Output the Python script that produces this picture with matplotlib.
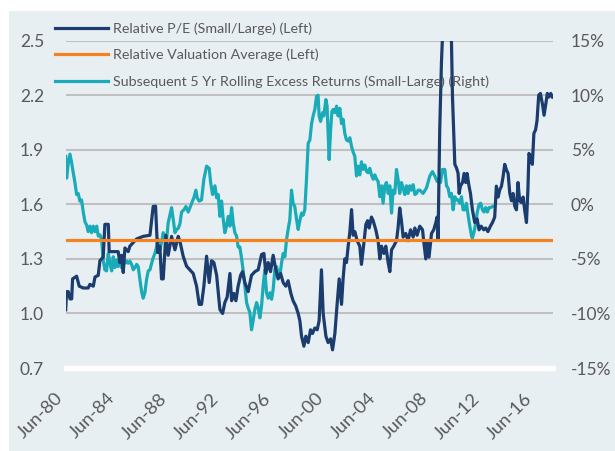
import matplotlib.pyplot as plt
import matplotlib.ticker as mticker
import matplotlib.transforms as mtransforms
from matplotlib.patches import Rectangle

# Relative P/E of small vs large caps (left axis)
pe_years = [1980.48, 1980.55, 1980.68, 1980.81, 1980.94, 1981.01, 1981.32, 1981.52, 1981.83, 1982.21,
            1982.34, 1982.60, 1982.73, 1982.98, 1983.11, 1983.36, 1983.49, 1983.75, 1983.82, 1984.26,
            1984.51, 1984.64, 1984.77, 1984.90, 1985.03, 1985.28, 1985.41, 1985.67, 1985.93, 1986.43,
            1986.95, 1987.20, 1987.38, 1987.54, 1987.71, 1987.84, 1987.97, 1988.17, 1988.35, 1988.61,
            1988.87, 1989.12, 1989.25, 1989.50, 1989.76, 1990.02, 1990.27, 1990.53, 1990.73, 1990.91,
            1991.09, 1991.30, 1991.50, 1991.68, 1991.86, 1992.07, 1992.32, 1992.53, 1992.70, 1992.88,
            1993.09, 1993.22, 1993.39, 1993.55, 1993.72, 1993.91, 1994.06, 1994.24, 1994.49, 1994.75,
            1995.01, 1995.26, 1995.52, 1995.70, 1995.85, 1996.03, 1996.21, 1996.41, 1996.59, 1996.79,
            1996.98, 1997.18, 1997.38, 1997.56, 1997.77, 1997.94, 1998.15, 1998.33, 1998.46, 1998.59,
            1998.77, 1998.92, 1999.10, 1999.28, 1999.43, 1999.61, 1999.79, 1999.94, 2000.12, 2000.25,
            2000.46, 2000.63, 2000.82, 2000.97, 2001.15, 2001.32, 2001.48, 2001.66, 2001.78, 2001.91,
            2002.04, 2002.17, 2002.30, 2002.43, 2002.55, 2002.68, 2002.86, 2003.06, 2003.19, 2003.32,
            2003.53, 2003.66, 2003.78, 2003.96, 2004.09, 2004.29, 2004.47, 2004.60, 2004.73, 2004.91,
            2005.06, 2005.24, 2005.37, 2005.50, 2005.67, 2005.88, 2006.00, 2006.13, 2006.26, 2006.39,
            2006.59, 2006.77, 2006.96, 2007.16, 2007.29, 2007.46, 2007.67, 2007.88, 2007.98, 2008.13,
            2008.23, 2008.38, 2008.57, 2008.74, 2008.90, 2009.00, 2009.07, 2009.20, 2009.33, 2009.51,
            2009.66, 2009.90, 2010.05, 2010.10, 2010.18, 2010.36, 2010.49, 2010.61, 2010.69, 2010.79,
            2010.95, 2011.07, 2011.20, 2011.30, 2011.45, 2011.56, 2011.71, 2011.89, 2012.07, 2012.22,
            2012.38, 2012.58, 2012.73, 2012.90, 2013.09, 2013.25, 2013.42, 2013.55, 2013.68, 2013.81,
            2013.94, 2014.06, 2014.19, 2014.32, 2014.45, 2014.58, 2014.71, 2014.83, 2014.96, 2015.09,
            2015.21, 2015.34, 2015.47, 2015.60, 2015.72, 2015.86, 2015.97, 2016.05, 2016.18, 2016.31,
            2016.43, 2016.56, 2016.67, 2016.80, 2016.93, 2017.09, 2017.21, 2017.34, 2017.46, 2017.59,
            2017.72, 2017.86]
pe_values = [1.02, 1.12, 1.12, 1.08, 1.08, 1.19, 1.205, 1.15, 1.14, 1.14,
             1.16, 1.15, 1.20, 1.21, 1.29, 1.31, 1.49, 1.49, 1.34, 1.34,
             1.34, 1.28, 1.32, 1.225, 1.36, 1.34, 1.37, 1.39, 1.41, 1.424,
             1.43, 1.589, 1.59, 1.335, 1.37, 1.19, 1.19, 1.43, 1.32, 1.424,
             1.35, 1.424, 1.397, 1.315, 1.26, 1.24, 1.22, 1.15, 1.05, 1.05,
             1.15, 1.315, 1.17, 1.29, 1.28, 1.21, 1.022, 1.00, 1.06, 1.09,
             1.22, 1.07, 1.11, 1.07, 1.15, 1.21, 1.23, 1.17, 1.12, 1.21,
             1.23, 1.24, 1.324, 1.33, 1.22, 1.28, 1.23, 1.32, 1.25, 1.19,
             1.22, 1.17, 1.15, 1.18, 1.11, 1.07, 1.04, 1.00, 0.96, 0.875,
             0.82, 0.875, 0.84, 0.91, 0.89, 0.92, 0.91, 0.96, 1.24, 1.00,
             0.875, 0.84, 0.86, 0.80, 0.89, 1.05, 1.19, 1.05, 1.19, 1.30,
             1.28, 1.37, 1.45, 1.571, 1.43, 1.45, 1.40, 1.37, 1.27, 1.35,
             1.49, 1.51, 1.47, 1.53, 1.51, 1.46, 1.40, 1.30, 1.37, 1.33,
             1.37, 1.28, 1.23, 1.35, 1.37, 1.40, 1.47, 1.58, 1.51, 1.42,
             1.44, 1.40, 1.46, 1.42, 1.47, 1.43, 1.48, 1.46, 1.39, 1.30,
             1.39, 1.31, 1.44, 1.46, 1.50, 1.53, 1.41, 2.01, 2.376, 2.70,
             2.80, 2.75, 2.60, 2.50, 2.19, 1.82, 1.80, 1.77, 1.66, 1.70,
             1.72, 1.77, 1.72, 1.77, 1.70, 1.66, 1.57, 1.50, 1.52, 1.46,
             1.48, 1.46, 1.47, 1.45, 1.48, 1.50, 1.53, 1.70, 1.64, 1.68,
             1.70, 1.75, 1.82, 1.79, 1.77, 1.66, 1.62, 1.66, 1.59, 1.57,
             1.72, 1.62, 1.61, 1.64, 1.57, 1.50, 1.68, 1.88, 1.86, 1.82,
             1.99, 2.01, 2.06, 2.20, 2.21, 2.15, 2.09, 2.15, 2.21, 2.19,
             2.21, 2.19]

# long-run average of the relative valuation (left axis)
avg_value = 1.405

# subsequent 5-year rolling excess returns, small minus large, in % (right axis)
ret_years = [1980.48, 1980.55, 1980.68, 1980.81, 1980.94, 1981.06, 1981.19, 1981.32, 1981.44, 1981.57,
             1981.70, 1981.83, 1981.96, 1982.09, 1982.21, 1982.34, 1982.47, 1982.60, 1982.73, 1982.86,
             1982.98, 1983.11, 1983.24, 1983.36, 1983.49, 1983.62, 1983.75, 1983.88, 1984.01, 1984.13,
             1984.26, 1984.39, 1984.51, 1984.64, 1984.77, 1984.90, 1985.03, 1985.16, 1985.28, 1985.41,
             1985.54, 1985.67, 1985.80, 1985.93, 1986.05, 1986.18, 1986.31, 1986.43, 1986.56, 1986.69,
             1986.82, 1986.95, 1987.08, 1987.20, 1987.33, 1987.46, 1987.58, 1987.71, 1987.84, 1987.97,
             1988.10, 1988.23, 1988.35, 1988.48, 1988.61, 1988.74, 1988.87, 1989.00, 1989.12, 1989.25,
             1989.38, 1989.56, 1989.71, 1989.89, 1990.02, 1990.15, 1990.32, 1990.48, 1990.58, 1990.73,
             1990.91, 1991.09, 1991.30, 1991.50, 1991.61, 1991.76, 1991.94, 1992.07, 1992.19, 1992.32,
             1992.45, 1992.57, 1992.70, 1992.83, 1992.96, 1993.09, 1993.22, 1993.34, 1993.47, 1993.60,
             1993.72, 1993.85, 1993.98, 1994.11, 1994.24, 1994.37, 1994.49, 1994.62, 1994.75, 1994.88,
             1995.01, 1995.14, 1995.26, 1995.39, 1995.52, 1995.64, 1995.77, 1995.90, 1996.03, 1996.16,
             1996.29, 1996.41, 1996.54, 1996.67, 1996.79, 1996.92, 1997.05, 1997.18, 1997.31, 1997.44,
             1997.56, 1997.69, 1997.82, 1997.94, 1998.07, 1998.21, 1998.33, 1998.46, 1998.59, 1998.71,
             1998.84, 1998.97, 1999.10, 1999.23, 1999.36, 1999.48, 1999.61, 1999.74, 1999.86, 1999.94,
             2000.05, 2000.20, 2000.30, 2000.46, 2000.55, 2000.71, 2000.82, 2000.92, 2001.02, 2001.15,
             2001.28, 2001.40, 2001.53, 2001.66, 2001.78, 2001.91, 2002.04, 2002.17, 2002.30, 2002.43,
             2002.55, 2002.68, 2002.81, 2002.93, 2003.06, 2003.19, 2003.32, 2003.45, 2003.58, 2003.70,
             2003.83, 2003.96, 2004.09, 2004.22, 2004.35, 2004.47, 2004.60, 2004.73, 2004.85, 2004.98,
             2005.11, 2005.24, 2005.37, 2005.50, 2005.62, 2005.75, 2005.88, 2006.00, 2006.13, 2006.26,
             2006.39, 2006.52, 2006.65, 2006.77, 2006.90, 2007.03, 2007.16, 2007.29, 2007.42, 2007.54,
             2007.67, 2007.92, 2008.18, 2008.44, 2008.64, 2008.82, 2009.00, 2009.15, 2009.26, 2009.41,
             2009.59, 2009.72, 2009.84, 2009.97, 2010.10, 2010.23, 2010.36, 2010.49, 2010.61, 2010.74,
             2010.87, 2010.99, 2011.12, 2011.25, 2011.38, 2011.51, 2011.64, 2011.71, 2011.84, 2011.97,
             2012.07, 2012.22, 2012.35, 2012.48, 2012.60, 2012.73, 2012.86, 2012.98, 2013.11, 2013.25]
ret_values = [4.4, 2.4, 3.8, 4.6, 3.8, 2.9, 2.0, 0.9, 1.0, 0.3,
              0.4, -0.7, -1.6, -1.9, -2.5, -2.0, -2.6, -2.0, -2.5, -2.0,
              -2.9, -2.8, -3.2, -5.1, -6.0, -6.1, -4.5, -5.4, -6.1, -4.8,
              -5.8, -5.1, -5.7, -4.9, -5.8, -5.1, -5.4, -5.2, -5.4, -5.2,
              -5.5, -6.0, -5.8, -5.5, -5.7, -6.9, -8.0, -8.6, -8.1, -6.9,
              -6.1, -6.0, -5.4, -4.9, -4.5, -3.9, -3.2, -4.2, -3.5, -2.6,
              -3.2, -3.2, -1.7, -1.0, -0.3, -1.4, -2.6, -2.3, -2.2, -1.8,
              -0.7, -0.5, -0.2, -0.7, -0.3, 0.1, 0.6, 1.3, 0.6, 0.3,
              0.4, 2.3, 3.5, 3.3, 2.0, 0.9, 1.7, 0.6, 0.9, -1.1,
              0.3, -1.3, -2.6, -2.0, -1.1, -2.0, -0.3, -1.7, -2.6, -2.9,
              -3.9, -3.9, -4.9, -6.1, -7.5, -9.0, -9.5, -9.9, -11.5, -10.6,
              -9.6, -9.0, -9.5, -10.4, -9.3, -7.5, -6.0, -8.1, -8.6, -8.1,
              -8.7, -7.8, -6.0, -5.7, -6.3, -6.6, -5.4, -4.5, -4.8, -3.2,
              -2.3, -1.4, 1.3, 0.1, -0.2, -1.4, -2.3, -1.5, -0.8, -1.0,
              -0.5, 2.3, 5.6, 5.9, 7.4, 8.1, 8.7, 9.9, 10.0, 8.1,
              7.6, 8.4, 8.1, 9.6, 9.0, 4.1, 6.8, 8.5, 8.7, 8.4,
              9.0, 8.1, 8.8, 7.4, 7.8, 6.5, 5.9, 5.8, 6.1, 5.3,
              4.8, 4.4, 2.6, 3.5, 2.7, 3.9, 3.2, 3.6, 3.0, 2.9,
              3.3, 2.7, 2.3, 2.7, 2.3, 2.1, 0.7, 1.7, 0.1, 1.7,
              2.0, 1.0, 1.7, -0.8, 1.3, 1.0, 3.2, 2.3, 1.0, 2.0,
              1.5, 0.9, 1.7, 1.0, 1.7, 1.3, 1.8, 0.9, 1.0, 1.3,
              1.3, 1.0, 1.5, 2.6, 3.0, 2.6, 2.1, 2.3, 2.0, 3.2,
              3.2, 1.7, 1.5, 0.7, 1.0, -0.5, 0.7, 0.4, 0.4, 0.1,
              0.7, -0.5, -0.5, 0.1, -1.0, -2.0, -2.9, -3.1, -2.5, -1.7,
              -0.8, 0.0, 0.1, -0.5, -0.7, -0.3, -0.7, -0.3, -0.3, -0.2]

tick_years = [1980.5, 1984.5, 1988.5, 1992.5, 1996.5, 2000.5, 2004.5, 2008.5, 2012.5, 2016.5]
tick_labels = ['Jun-80', 'Jun-84', 'Jun-88', 'Jun-92', 'Jun-96',
               'Jun-00', 'Jun-04', 'Jun-08', 'Jun-12', 'Jun-16']

navy = '#1A3C6E'
orange = '#F58220'
teal = '#1AABB8'
grey_text = '#595959'
bg = '#E8EFF3'

plt.rcParams['font.family'] = ['Lato', 'DejaVu Sans']

fig = plt.figure(figsize=(6.15, 4.51), dpi=100)
fig.patches.append(Rectangle((9 / 615, 0), 1 - 9 / 615, 1 - 11 / 451,
                             transform=fig.transFigure, facecolor=bg, edgecolor='none', zorder=-5))

ax = fig.add_axes([0.1068, 0.184, 0.7916, 0.7258])
ax2 = ax.twinx()
ax.set_zorder(ax2.get_zorder() + 1)
ax.patch.set_visible(False)
ax2.patch.set_visible(False)

l3, = ax2.plot(ret_years, ret_values, color=teal, lw=2.3,
               label='Subsequent 5 Yr Rolling Excess Returns (Small-Large) (Right)')
l1, = ax.plot(pe_years, pe_values, color=navy, lw=2.3, label='Relative P/E (Small/Large) (Left)')
l2 = ax.axhline(avg_value, color=orange, lw=2.3, label='Relative Valuation Average (Left)')

ax.set_xlim(pe_years[0], pe_years[-1])
ax.set_ylim(0.7, 2.5)
ax.set_yticks([0.7, 1.0, 1.3, 1.6, 1.9, 2.2, 2.5])
ax.yaxis.set_major_formatter(mticker.FormatStrFormatter('%.1f'))
ax2.set_ylim(-15, 15)
ax2.set_yticks(range(-15, 16, 5))
ax2.yaxis.set_major_formatter(mticker.FuncFormatter(lambda v, p: f'{v:.0f}%'))

ax2.grid(axis='y', color='#C0C0C0', lw=1.5)
ax2.set_axisbelow(True)

ax.set_xticks(tick_years)
ax.set_xticklabels(tick_labels, rotation=45, ha='right')
shift = mtransforms.ScaledTranslation(4 / 72, 0, fig.dpi_scale_trans)
for lab in ax.get_xticklabels():
    lab.set_transform(lab.get_transform() + shift)

for a in (ax, ax2):
    for side in ('top', 'left', 'right', 'bottom'):
        a.spines[side].set_visible(False)
ax.spines['bottom'].set_visible(True)
ax.spines['bottom'].set_color('white')
ax.spines['bottom'].set_linewidth(3.8)

ax.tick_params(axis='y', length=0, pad=15.5, labelsize=12.5, labelcolor=grey_text)
ax2.tick_params(axis='y', length=0, pad=13, labelsize=12.5, labelcolor=grey_text)
ax.tick_params(axis='x', length=0, pad=16, labelsize=13.3, labelcolor=grey_text)

fig.legend(handles=[l1, l2, l3], loc='upper left', bbox_to_anchor=(55 / 615, 1 - 22 / 451),
           frameon=False, fontsize=10.3, labelcolor=grey_text, handlelength=3.7,
           handletextpad=0.37, borderpad=0, borderaxespad=0, labelspacing=0.98)

fig.savefig('out.png', dpi=100, facecolor='white')
